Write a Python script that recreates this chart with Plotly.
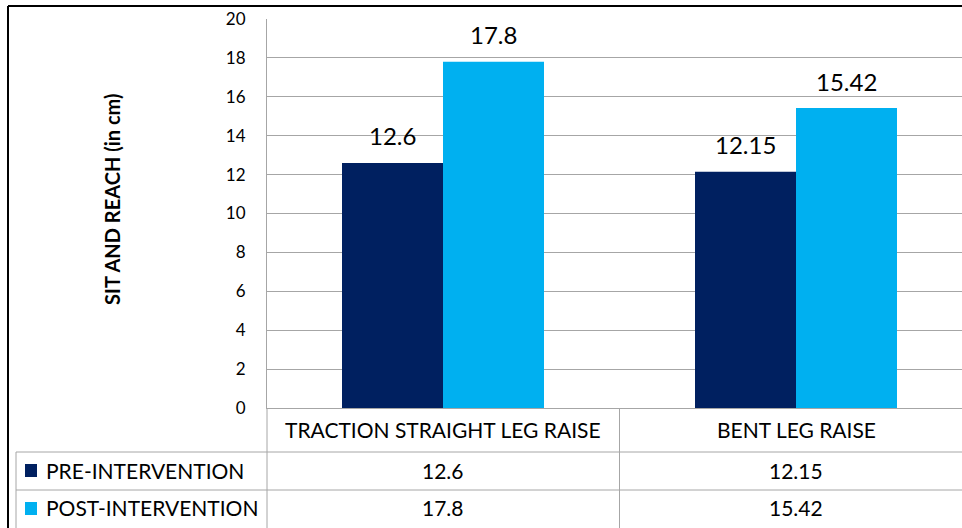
import plotly.graph_objects as go

categories = ["TRACTION STRAIGHT LEG RAISE", "BENT LEG RAISE"]
series_names = ["PRE-INTERVENTION", "POST-INTERVENTION"]
pre_values = [12.6, 12.15]
post_values = [17.8, 15.42]
value_labels_pre = ["12.6", "12.15"]
value_labels_post = ["17.8", "15.42"]
y_ticks = [0, 2, 4, 6, 8, 10, 12, 14, 16, 18, 20]
colors = ["#002060", "#00B0F0"]

W, H = 962, 528
L, R, T, B = 267, 0, 19, 120
PW, PH = W - L - R, H - T - B

def px(x):
    return (x - L) / PW

def py(y):
    return (H - B - y) / PH

FONT = "Lato"
xidx = list(range(len(categories)))
BAR_PX = 101  # bar width in pixels (style)

fig = go.Figure()
for name, vals, col in zip(series_names, [pre_values, post_values], colors):
    fig.add_trace(go.Bar(
        x=xidx, y=vals, name=name, marker=dict(color=col, line=dict(width=0)),
    ))

shapes = []
gray = "#A6A6A6"
# outer border
shapes.append(dict(type="line", xref="paper", yref="paper", x0=px(8), x1=px(W + 5), y0=py(6), y1=py(6),
                   line=dict(color="#000000", width=2)))
shapes.append(dict(type="line", xref="paper", yref="paper", x0=px(8), x1=px(8), y0=py(6), y1=py(H + 5),
                   line=dict(color="#000000", width=2)))
# table lines
shapes.append(dict(type="line", xref="paper", yref="paper", x0=0, x1=0, y0=0, y1=py(H + 5),
                   line=dict(color=gray, width=1)))
shapes.append(dict(type="line", xref="x", yref="paper", x0=0.5, x1=0.5, y0=0, y1=py(H + 5),
                   line=dict(color=gray, width=1)))
shapes.append(dict(type="line", xref="paper", yref="paper", x0=px(16), x1=px(16), y0=py(452), y1=py(H + 5),
                   line=dict(color=gray, width=1)))
for yy in [452, 490]:
    shapes.append(dict(type="line", xref="paper", yref="paper", x0=px(16), x1=px(W + 5), y0=py(yy), y1=py(yy),
                       line=dict(color=gray, width=1)))
# legend keys
for yy, col in zip([470, 508], colors):
    shapes.append(dict(type="rect", xref="paper", yref="paper", x0=px(25), x1=px(37), y0=py(yy - 6), y1=py(yy + 7),
                       fillcolor=col, line=dict(width=0)))

annotations = []
# data labels above bars
for k, (vals, labs) in enumerate(zip([pre_values, post_values], [value_labels_pre, value_labels_post])):
    shift = (k - 0.5) * BAR_PX
    for i, (v, t) in enumerate(zip(vals, labs)):
        annotations.append(dict(x=i, y=v, xref="x", yref="y", text=t, showarrow=False,
                                xshift=shift, yshift=27, xanchor="center", yanchor="middle",
                                font=dict(size=24, color="#000000", family=FONT)))
for i, c in enumerate(categories):
    annotations.append(dict(x=i, y=py(430), xref="x", yref="paper", text=c, showarrow=False,
                            font=dict(size=21, color="#000000", family=FONT), xanchor="center", yanchor="middle"))
for row_y, labs in zip([470, 508], [value_labels_pre, value_labels_post]):
    for i, t in enumerate(labs):
        annotations.append(dict(x=i, y=py(row_y), xref="x", yref="paper", text=t, showarrow=False,
                                font=dict(size=21, color="#000000", family=FONT), xanchor="center", yanchor="middle"))
for row_y, name in zip([470, 508], series_names):
    annotations.append(dict(x=px(44), y=py(row_y), xref="paper", yref="paper", text=name, showarrow=False,
                            font=dict(size=21, color="#000000", family=FONT), xanchor="left", yanchor="middle"))
annotations.append(dict(x=px(112), y=py(200), xref="paper", yref="paper", text="<b>SIT AND REACH (in cm)</b>",
                        showarrow=False, textangle=-90, font=dict(size=20, color="#000000", family=FONT),
                        xanchor="center", yanchor="middle"))

cat_w = 353.0
x_left = -(443 - L) / cat_w
x_right = x_left + PW / cat_w

fig.update_layout(
    width=W, height=H,
    margin=dict(l=L, r=R, t=T, b=B),
    paper_bgcolor="#FFFFFF", plot_bgcolor="#FFFFFF",
    barmode="group", bargap=1 - 2 * BAR_PX / cat_w, bargroupgap=0,
    showlegend=False,
    font=dict(family=FONT, color="#000000"),
    shapes=shapes, annotations=annotations,
    xaxis=dict(range=[x_left, x_right], showticklabels=False, showgrid=False, zeroline=False,
               showline=True, linecolor=gray, linewidth=1, ticks=""),
    yaxis=dict(range=[0, 20], tickvals=y_ticks, showgrid=True, gridcolor=gray, gridwidth=1,
               zeroline=False, showline=True, linecolor=gray, linewidth=1, ticks="",
               ticklabelstandoff=17, tickfont=dict(size=17, color="#000000", family=FONT)),
)

fig.write_html("out.html")
